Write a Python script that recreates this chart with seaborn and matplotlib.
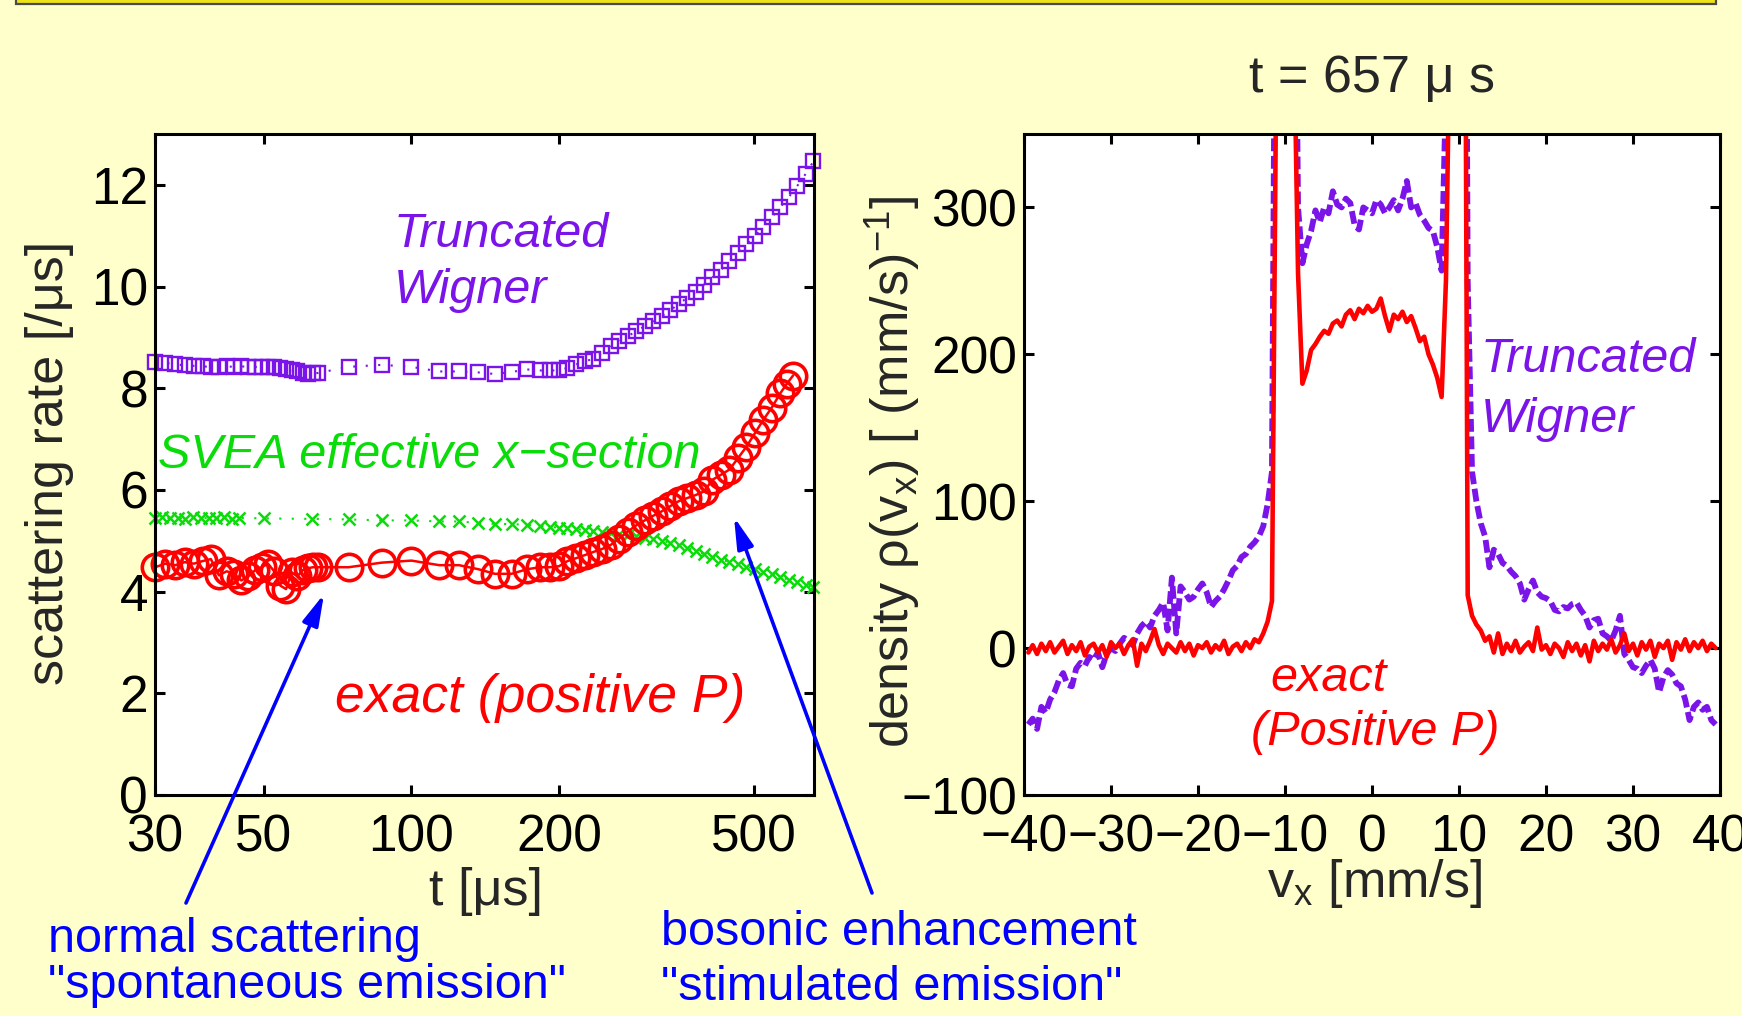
import numpy as np
import matplotlib
matplotlib.use('Agg')
import matplotlib.pyplot as plt
import seaborn as sns
from matplotlib.patches import Rectangle
from matplotlib.ticker import NullLocator, FixedLocator, FixedFormatter

# ---------------- data: left panel (scattering rate vs t) ----------------
t_wigner = [30, 31.5, 33, 34.5, 36, 37.5, 39, 40.5, 42, 43.5, 45, 46.5, 48, 49.5, 51, 52.5,
            54, 55.5, 57, 58.5, 60, 61.5, 63, 64.5,
            74.5, 87, 100, 114, 125, 137, 148, 160, 172, 183, 192,
            200, 208, 217, 226, 235, 245, 255, 265, 276, 287, 299, 311, 324, 337, 351, 365,
            380, 395, 411, 428, 445, 463, 482, 502, 522, 543, 565, 588, 612, 637, 660]
rate_wigner = [8.52, 8.50, 8.47, 8.45, 8.44, 8.43, 8.42, 8.42, 8.43, 8.42, 8.43, 8.42, 8.42, 8.41,
               8.42, 8.41, 8.40, 8.38, 8.35, 8.33, 8.30, 8.28, 8.29, 8.30,
               8.42, 8.46, 8.42, 8.33, 8.33, 8.31, 8.28, 8.32, 8.37, 8.35, 8.35,
               8.35, 8.40, 8.47, 8.53, 8.58, 8.70, 8.84, 8.92, 9.02, 9.12, 9.22, 9.32, 9.42, 9.53,
               9.66, 9.78, 9.90, 10.04, 10.18, 10.33, 10.50, 10.66, 10.84, 11.00, 11.18, 11.36,
               11.56, 11.76, 11.98, 12.22, 12.46]

t_exact = [30, 31.5, 33, 34.5, 36, 37.5, 39, 40.5, 42, 43.5, 45, 46.5, 48, 49.5, 51, 52.5,
           54, 55.5, 57, 58.5, 60, 61.5, 63, 64.5,
           74.5, 87, 100, 114, 125, 137, 148, 160, 172, 183, 192,
           200, 208, 217, 226, 235, 245, 255, 265, 276, 287, 299, 311, 324, 337, 351, 365,
           380, 395, 411, 428, 445, 463, 482, 502, 522, 543, 565, 582, 600]
rate_exact = [4.48, 4.55, 4.52, 4.58, 4.55, 4.60, 4.64, 4.32, 4.40, 4.35, 4.22, 4.30, 4.42, 4.48,
              4.55, 4.40, 4.12, 4.05, 4.38, 4.30, 4.42, 4.46, 4.48, 4.48,
              4.48, 4.57, 4.61, 4.52, 4.52, 4.44, 4.35, 4.35, 4.44, 4.48, 4.48,
              4.50, 4.60, 4.66, 4.72, 4.78, 4.84, 4.92, 5.04, 5.18, 5.30, 5.40, 5.49, 5.58, 5.68,
              5.78, 5.84, 5.90, 5.97, 6.20, 6.30, 6.40, 6.62, 6.85, 7.12, 7.38, 7.62, 7.90,
              8.08, 8.25]

t_svea = [30, 31, 32.2, 33.4, 34.6, 35.9, 37.2, 38.6, 40, 41.5, 43, 44.6, 50, 62.6,
          74.5, 87, 100, 114, 125, 137, 148, 160, 172, 183, 192,
          200, 208, 217, 226, 235, 245, 255, 265, 276, 287, 299, 311, 324, 337, 351, 365,
          380, 395, 411, 428, 445, 463, 482, 502, 522, 543, 565, 588, 612, 637, 660]
rate_svea = [5.44, 5.46, 5.44, 5.45, 5.43, 5.46, 5.44, 5.45, 5.44, 5.46, 5.43, 5.45, 5.44, 5.43,
             5.42, 5.40, 5.40, 5.38, 5.38, 5.35, 5.33, 5.33, 5.31, 5.29, 5.27,
             5.26, 5.25, 5.23, 5.21, 5.19, 5.17, 5.15, 5.14, 5.11, 5.09, 5.06, 5.04, 5.00, 4.96,
             4.91, 4.86, 4.80, 4.74, 4.69, 4.63, 4.58, 4.54, 4.49, 4.45, 4.39, 4.34, 4.29,
             4.23, 4.18, 4.13, 4.09]

t_ticks = [30, 50, 100, 200, 500]
t_ticklabels = ['30', '50', '100', '200', '500']
rate_ticks = [0, 2, 4, 6, 8, 10, 12]

# ---------------- data: right panel (density vs v_x) ----------------
v_grid = np.arange(-39.5, 39.51, 0.5)
dens_exact = [-3, 2, -4, 3, -2, 4, -3, 1, 5, -4,
              2, -2, 4, -5, 1, 3, -3, 2, -6, 4,
              0, 3, -4, 2, 6, -12, 3, -2, 5, 13,
              2, -4, 3, 0, -3, 4, -2, 3, -5, 2,
              0, 4, -3, 2, -1, 5, -4, 1, 3, -2,
              4, 0, 6, 4, 10, 18, 32, 400, 900, 900,
              900, 430, 255, 180, 189, 203, 207, 212, 216, 214,
              221, 223, 219, 227, 230, 224, 231, 228, 233, 229,
              231, 238, 226, 216, 227, 224, 229, 222, 226, 218,
              209, 212, 200, 193, 184, 171, 250, 450, 900, 900,
              800, 36, 22, 16, 12, 5, 8, -3, 10, -4,
              3, -2, 5, -3, 1, 4, -2, 14, -1, 2,
              -4, 3, 0, -6, 4, -2, 3, -5, 2, -9,
              5, -2, 3, -1, 6, -3, 2, 10, -2, 3,
              -5, 4, -1, 5, -6, 3, 0, 5, -8, 4,
              -1, 6, -2, 4, 0, 5, -2, 3, 0]
dens_wigner = [-52, -48, -55, -40, -44, -35, -30, -22, -17, -25,
               -26, -14, -10, -12, -6, -8, -3, -13, -4, 0,
               -2, 3, 7, 5, 2, 10, 15, 18, 14, 22,
               26, 31, 12, 48, 10, 42, 38, 33, 35, 40,
               44, 38, 28, 32, 35, 40, 46, 53, 56, 62,
               64, 69, 72, 76, 83, 98, 120, 600, 900, 900,
               900, 600, 300, 262, 275, 284, 298, 290, 300, 296,
               311, 302, 300, 306, 303, 288, 285, 300, 298, 296,
               305, 302, 296, 300, 305, 298, 306, 318, 300, 303,
               295, 291, 286, 284, 273, 257, 380, 900, 900, 900,
               900, 250, 120, 100, 85, 76, 55, 67, 64, 58,
               56, 52, 49, 44, 33, 40, 46, 38, 35, 34,
               32, 26, 25, 28, 27, 30, 31, 26, 22, 14,
               19, 20, 10, 8, 5, 12, 22, -4, -8, -13,
               -14, -17, -12, -8, -14, -30, -20, -15, -18, -24,
               -26, -35, -49, -40, -37, -42, -40, -49, -52]
v_ticks = [-40, -30, -20, -10, 0, 10, 20, 30, 40]
dens_ticks = [-100, 0, 100, 200, 300]

# ---------------- style ----------------
W, H = 1742, 1016
BG = '#FFFFCC'
PURPLE = '#7A14E8'
GREEN = '#0ADC0A'
RED = '#FF0000'
BLUE = '#0000FF'
TICK_FS = 37
LAB_FS = 37.5
ANN_FS = 35

sns.set_style('ticks')
plt.rcParams['font.family'] = ['Liberation Sans', 'DejaVu Sans']
plt.rcParams['mathtext.fontset'] = 'custom'
plt.rcParams['mathtext.rm'] = 'Liberation Sans'
plt.rcParams['mathtext.it'] = 'Liberation Sans:italic'
plt.rcParams['axes.unicode_minus'] = True

fig = plt.figure(figsize=(W / 100, H / 100), dpi=100, facecolor=BG)


def fx(x):
    return x / W


def fy(y):
    return 1 - y / H


# top yellow box edge
fig.patches.append(Rectangle((fx(16), fy(4)), (1716 - 16) / W, 30 / H, transform=fig.transFigure,
                             facecolor='#EEE21A', edgecolor='#4A4A4A', lw=1.6, zorder=0))

ax1 = fig.add_axes([fx(155), fy(795), (814 - 155) / W, (795 - 134) / H])
ax2 = fig.add_axes([fx(1024), fy(795), (1720 - 1024) / W, (795 - 134) / H])

for ax in (ax1, ax2):
    ax.set_facecolor('white')
    for s in ax.spines.values():
        s.set_linewidth(2.2)
        s.set_color('black')
        s.set_visible(True)

# ---- left panel ----
sns.lineplot(x=t_wigner, y=rate_wigner, ax=ax1, color=PURPLE, lw=1.5, linestyle=(0, (1, 5)),
             marker='s', markersize=10.5, markerfacecolor='none', markeredgecolor=PURPLE,
             markeredgewidth=1.7, estimator=None, clip_on=False)
sns.lineplot(x=t_svea, y=rate_svea, ax=ax1, color=GREEN, lw=1.5, linestyle=(0, (1, 5)),
             marker='x', markersize=8.5, markeredgecolor=GREEN, markeredgewidth=1.8,
             estimator=None, clip_on=False)
sns.lineplot(x=t_exact, y=rate_exact, ax=ax1, color=RED, lw=1.8,
             marker='o', markersize=19, markerfacecolor='none', markeredgecolor=RED,
             markeredgewidth=2.6, estimator=None, clip_on=False)

ax1.set_xscale('log')
ax1.set_xlim(30, 662)
ax1.set_ylim(0, 13)
ax1.xaxis.set_major_locator(FixedLocator(t_ticks))
ax1.xaxis.set_major_formatter(FixedFormatter(t_ticklabels))
ax1.xaxis.set_minor_locator(NullLocator())
ax1.set_yticks(rate_ticks)
ax1.set_xlabel('')
ax1.set_ylabel('')

# ---- right panel ----
sns.lineplot(x=v_grid, y=dens_wigner, ax=ax2, color=PURPLE, lw=4.2, linestyle=(0, (2.2, 0.8)),
             estimator=None)
sns.lineplot(x=v_grid, y=dens_exact, ax=ax2, color=RED, lw=3.3, estimator=None)
ax2.set_xlim(-40, 40)
ax2.set_ylim(-100, 350)
ax2.set_xticks(v_ticks)
ax2.set_yticks(dens_ticks)
ax2.set_xlabel('')
ax2.set_ylabel('')

for ax in (ax1, ax2):
    ax.tick_params(axis='both', which='major', direction='in', length=7, width=2.2,
                   top=True, right=True, labelsize=TICK_FS, colors='black')
    ax.tick_params(axis='x', pad=13)
    ax.tick_params(axis='y', pad=5)

# ---- texts ----
fig.text(fx(1372), fy(92), 't = 657 \u03bc s', fontsize=LAB_FS, ha='center', va='baseline')
fig.text(fx(486), fy(905), 't [\u03bcs]', fontsize=LAB_FS, ha='center', va='baseline')
fig.text(fx(1267), fy(897), r'v$_\mathregular{x}$ [mm/s]', fontsize=LAB_FS, ha='left', va='baseline')
fig.text(fx(50), fy(463), 'scattering rate [/\u03bcs]', fontsize=LAB_FS, rotation=90,
         ha='center', va='center')
fig.text(fx(893), fy(472), r'density $\mathregular{\rho}$(v$_\mathregular{x}$) [ (mm/s)$^\mathregular{-1}$]',
         fontsize=LAB_FS, rotation=90, ha='center', va='center')

fig.text(fx(394), fy(247), 'Truncated', fontsize=ANN_FS, style='italic', color=PURPLE, va='baseline')
fig.text(fx(394), fy(303), 'Wigner', fontsize=ANN_FS, style='italic', color=PURPLE, va='baseline')
fig.text(fx(158), fy(468), 'SVEA effective x\u2212section', fontsize=ANN_FS, style='italic',
         color=GREEN, va='baseline')
fig.text(fx(335), fy(712), 'exact (positive P)', fontsize=38.5, style='italic',
         color=RED, va='baseline')
fig.text(fx(1481), fy(372), 'Truncated', fontsize=ANN_FS, style='italic', color=PURPLE, va='baseline')
fig.text(fx(1481), fy(432), 'Wigner', fontsize=ANN_FS, style='italic', color=PURPLE, va='baseline')
fig.text(fx(1270), fy(691), 'exact', fontsize=ANN_FS, style='italic', color=RED, va='baseline')
fig.text(fx(1251), fy(745), '(Positive P)', fontsize=ANN_FS, style='italic', color=RED, va='baseline')

fig.text(fx(48), fy(952), 'normal scattering', fontsize=ANN_FS, color=BLUE, va='baseline')
fig.text(fx(48), fy(998), '"spontaneous emission"', fontsize=ANN_FS, color=BLUE, va='baseline')
fig.text(fx(661), fy(945), 'bosonic enhancement', fontsize=ANN_FS, color=BLUE, va='baseline')
fig.text(fx(661), fy(1000), '"stimulated emission"', fontsize=ANN_FS, color=BLUE, va='baseline')

arrow_kw = dict(arrowstyle='-|>,head_length=0.95,head_width=0.25', color=BLUE, lw=2.6,
                mutation_scale=20, shrinkA=0, shrinkB=0)
ax1.annotate('', xy=(324, H - 594), xycoords='figure pixels', xytext=(186, H - 903),
             textcoords='figure pixels', arrowprops=arrow_kw, annotation_clip=False, zorder=10)
ax1.annotate('', xy=(734, H - 517), xycoords='figure pixels', xytext=(872, H - 893),
             textcoords='figure pixels', arrowprops=arrow_kw, annotation_clip=False, zorder=10)

fig.savefig('out.png', dpi=100, facecolor=BG)
